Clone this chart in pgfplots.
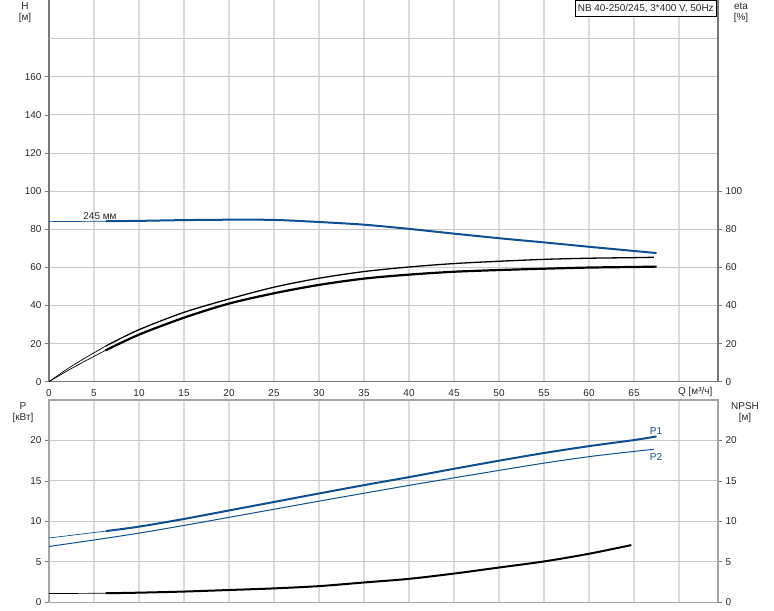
\documentclass[border=0pt]{standalone}
\usepackage{fontspec}
\setmainfont{Liberation Sans}
\usepackage{pgfplots}
\pgfplotsset{compat=1.18}

\definecolor{pblue}{RGB}{14,78,145}
\definecolor{vgrid}{RGB}{220,220,220}
\definecolor{hgrid}{RGB}{200,200,200}
\definecolor{axdark}{RGB}{120,120,120}
\definecolor{axlight}{RGB}{165,165,165}
\definecolor{txt}{RGB}{40,40,40}

\newcommand{\lbl}{\fontsize{10}{12}\selectfont}

\pgfplotsset{
  base/.style={
    scale only axis, width=669bp,
    xmin=0, xmax=74.33,
    tick label style={font=\lbl, text=txt},
    /pgf/number format/assume math mode=true,
    tick align=outside, major tick length=4bp,
    scaled ticks=false,
    x tick style={draw=none},
    y tick style={axdark, line width=0.8bp},
  },
  thinln/.style={line width=0.7bp, smooth},
  thickln/.style={line width=2bp, smooth},
}

\begin{document}
\begin{tikzpicture}
\useasboundingbox (0,0) rectangle (774bp,-611bp);

% ---- upper panel: H and eta
\begin{axis}[base, at={(49bp,-381.7bp)}, anchor=south west, height=381.7bp,
  ymin=0, ymax=200.3,
  axis x line*=bottom, axis y line*=left,
  axis line style={axdark, line width=1.3bp},
  xtick={0,5,...,70},
  xticklabels={0,5,10,15,20,25,30,35,40,45,50,55,60,65,{}},
  ytick={0,20,...,160},
  extra y ticks={180}, extra y tick labels={},
  extra y tick style={major tick length=0pt},
  xmajorgrids, ymajorgrids,
  x grid style={vgrid, line width=1.3bp},
  y grid style={hgrid, line width=1bp},
]
% H, 245 mm
\addplot[pblue, thinln] coordinates {(0,84) (3,84.1) (6.3,84.2)};
\addplot[pblue, thickln] coordinates {
  (6.3,84.2) (10,84.4) (15,84.8) (20,85) (25,84.9) (30,83.8) (35,82.4)
  (40,80.2) (45,77.7) (50,75.3) (55,73.1) (60,70.8) (65,68.6) (67.5,67.5)};
\end{axis}

\begin{axis}[base, at={(49bp,-381.7bp)}, anchor=south west, height=381.7bp,
  ymin=0, ymax=200.3,
  hide x axis, xtick=\empty, axis y line*=right,
  axis line style={axdark, line width=1.3bp},
  ytick={0,20,...,100},
  yticklabel style={anchor=west},
]
% eta (upper)
\addplot[black, thinln] coordinates {(0,0) (2,6.6) (4,12.4) (6.3,18.7)};
\addplot[black, line width=1.3bp, smooth] coordinates {
  (6.3,18.7) (10,27.3) (15,36.4) (20,43.4) (25,49.6) (30,54.3) (35,57.8)
  (40,60.2) (45,62) (50,63.2) (55,64.2) (60,64.8) (65,65.1) (67.2,65.3)};
% eta (lower)
\addplot[black, thinln] coordinates {(0,0) (2,5.6) (4,10.8) (6.3,16.5)};
\addplot[black, line width=2.2bp, smooth] coordinates {
  (6.3,16.5) (10,24.7) (15,33.6) (20,41) (25,46.4) (30,50.8) (35,54.1)
  (40,56.2) (45,57.7) (50,58.6) (55,59.3) (60,59.9) (65,60.2) (67.5,60.4)};
\end{axis}

% ---- lower panel: P and NPSH
\begin{axis}[base, at={(49bp,-602.3bp)}, anchor=south west, height=202.3bp,
  ymin=0, ymax=25,
  axis line style={axlight, line width=1.3bp},
  xtick={5,10,...,70}, xticklabels={},
  ytick={0,5,...,20}, ytick pos=left,
  xmajorgrids, ymajorgrids,
  x grid style={vgrid, line width=1.3bp},
  y grid style={hgrid, line width=1bp},
]
% P1
\addplot[pblue, thinln] coordinates {(0,7.95) (3,8.35) (6.3,8.8)};
\addplot[pblue, thickln] coordinates {
  (6.3,8.8) (10,9.35) (15,10.3) (20,11.35) (25,12.4) (30,13.45) (35,14.48)
  (40,15.47) (45,16.5) (50,17.5) (55,18.45) (60,19.3) (65,20.05) (67.5,20.5)};
% P2
\addplot[pblue, line width=1bp, smooth] coordinates {
  (0,6.9) (5,7.7) (10,8.55) (15,9.5) (20,10.5) (25,11.5) (30,12.5)
  (35,13.48) (40,14.45) (45,15.38) (50,16.3) (55,17.2) (60,18.0) (65,18.65)
  (67.2,18.9)};
\end{axis}

\begin{axis}[base, at={(49bp,-602.3bp)}, anchor=south west, height=202.3bp,
  ymin=0, ymax=25,
  hide x axis, xtick=\empty, axis y line*=right,
  axis line style={axlight, line width=1.3bp},
  ytick={0,5,...,20},
  yticklabel style={anchor=west},
]
% NPSH
\addplot[black, thinln] coordinates {(0,1.1) (3,1.1) (6.3,1.12)};
\addplot[black, thickln] coordinates {
  (6.3,1.12) (10,1.19) (15,1.33) (20,1.52) (25,1.72) (30,2.0) (35,2.45)
  (40,2.9) (45,3.55) (50,4.3) (55,5.05) (60,6.0) (64.7,7.07)};
\end{axis}

% ---- texts
\begin{scope}[every node/.style={font=\lbl, text=txt, inner sep=0pt}]
\node at (25bp,-6bp) {H};
\node at (25bp,-18bp) {[м]};
\node at (741bp,-6bp) {eta};
\node at (741bp,-18bp) {[\%]};
\node at (23bp,-406bp) {P};
\node at (23bp,-418bp) {[кВт]};
\node at (745bp,-406bp) {NPSH};
\node at (745bp,-418bp) {[м]};
\node at (100bp,-216bp) {245 мм};
\node[text=pblue] at (656bp,-431bp) {P1};
\node[text=pblue] at (656bp,-457bp) {P2};
\node[anchor=west] at (678bp,-392bp) {Q [м³/ч]};
\end{scope}
\node[draw=black, line width=0.6bp, fill=white, anchor=north east,
  font=\lbl, text=txt, minimum height=16bp, inner xsep=3bp, inner ysep=0pt]
  at (717bp,0bp) {NB 40-250/245, 3*400 V, 50Hz};
\end{tikzpicture}
\end{document}
